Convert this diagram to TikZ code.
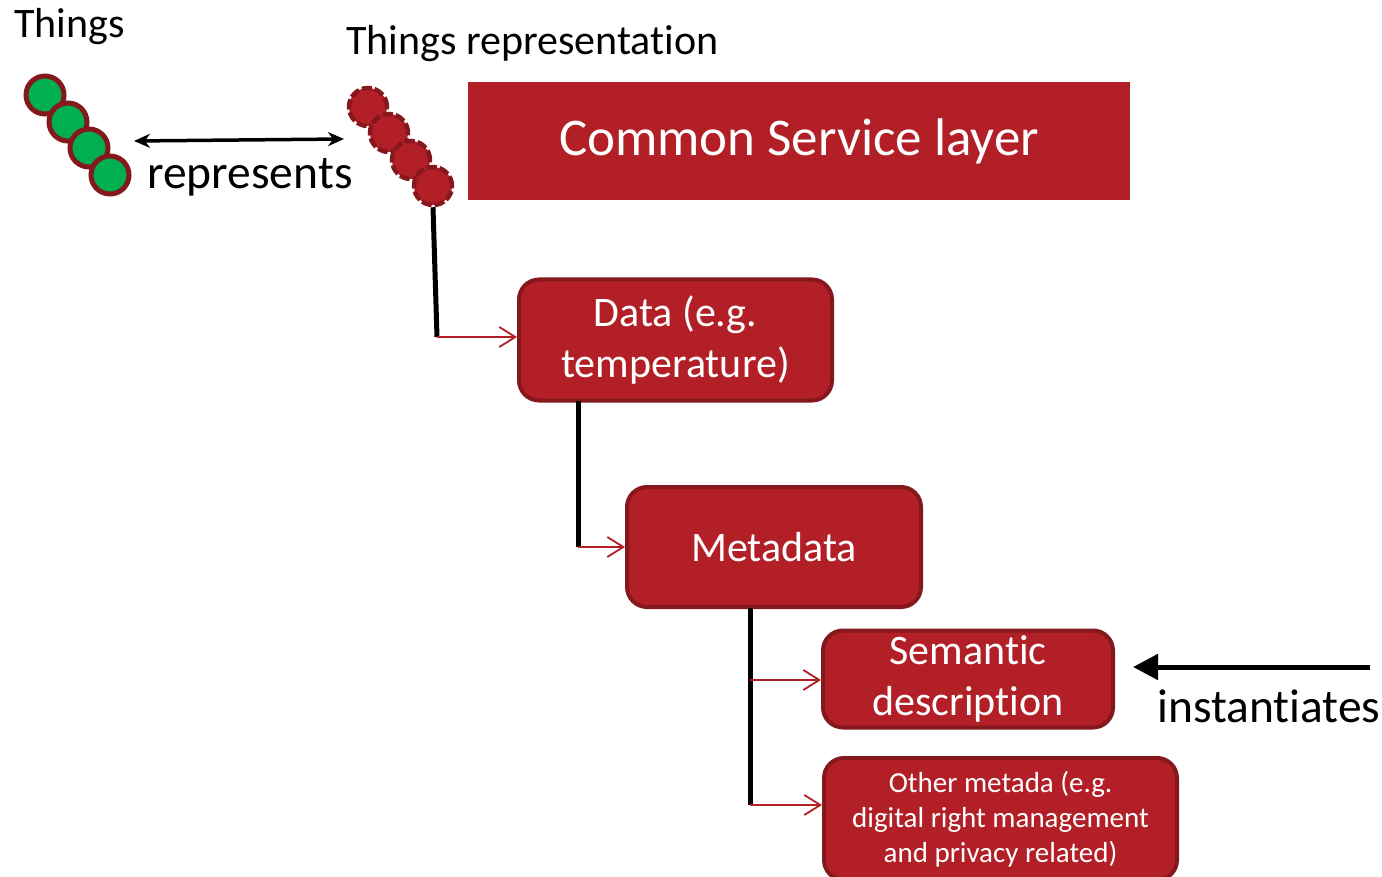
\documentclass[tikz,border=0pt]{standalone}
\usepackage{fontspec}
\setmainfont{Carlito}[Ligatures={NoCommon,NoContextual},Contextuals=NoAlternate]
\usetikzlibrary{arrows.meta}
% "t" followed by "i" without the font's ti ligature
\newcommand\tisep{t\kern0pt i}
\definecolor{boxred}{RGB}{179,31,39}
\definecolor{edgered}{RGB}{133,24,28}
\definecolor{thinggreen}{RGB}{0,176,80}
\tikzset{
  thing/.style={circle,draw=edgered,fill=thinggreen,line width=5pt,minimum size=38pt,inner sep=0pt},
  repthing/.style={circle,draw=edgered,fill=boxred,line width=4.5pt,minimum size=38pt,inner sep=0pt,dash pattern=on 10pt off 3pt},
  rbox/.style={rounded corners=20pt,draw=edgered,fill=boxred,line width=4pt,text=white,align=center,inner sep=0pt},
  stem/.style={line width=5pt,black},
  feed/.style={draw=boxred,line width=1.8pt,-{Straight Barb[length=16pt,width=20pt,line width=1.8pt]}},
  lbl/.style={anchor=base west,inner sep=0pt},
}
\begin{document}
\begin{tikzpicture}[x=1pt,y=-1pt]
\useasboundingbox (0,0) rectangle (1382,877);
% physical things
\node[thing] (g1) at (45,95) {};
\node[thing] (g2) at (68,122) {};
\node[thing] (g3) at (89,148) {};
\node[thing] (g4) at (110,175) {};
% their representations
\node[repthing] (r1) at (368,107) {};
\node[repthing] (r2) at (389,133) {};
\node[repthing] (r3) at (411,160) {};
\node[repthing] (r4) at (433,186) {};
% labels
\node[lbl,font=\fontsize{42}{50}\selectfont] (tthings) at (14,38) {Things};
\node[lbl,font=\fontsize{42}{50}\selectfont] (trep) at (346,55) {Things representa\tisep on};
\node[lbl,font=\fontsize{47.5}{55}\selectfont] (trepr) at (147,189) {represents};
\node[lbl,font=\fontsize{47.5}{55}\selectfont] (tinst) at (1157,722) {instan\tisep ates};
% layer banner
\node[fill=boxred,minimum width=662pt,minimum height=118pt,inner sep=0pt,text=white,
      font=\fontsize{53}{60}\selectfont] (csl) at (799,141) {Common Service layer};
% boxes
\node[rbox,minimum width=313pt,minimum height=121pt,font=\fontsize{42}{51}\selectfont] (data) at (675.5,340) {Data (e.g.\\temperature)};
\node[rbox,minimum width=294pt,minimum height=120pt,font=\fontsize{42}{51}\selectfont] (meta) at (774,547) {Metadata};
\node[rbox,minimum width=290pt,minimum height=97pt,font=\fontsize{42}{51}\selectfont] (sem) at (968,679) {Seman\tisep c\\description};
\node[rbox,minimum width=353pt,minimum height=122pt,font=\fontsize{29}{35}\selectfont] (other) at (1000.5,819) {Other metada (e.g.\\digital right management\\and privacy related)};
% connectors
\coordinate (ra) at (134,141);
\coordinate (rb) at (344,139);
\coordinate (k1) at (437,337);
\coordinate (k2top) at (578,401);
\coordinate (k2) at (578,547);
\coordinate (k3top) at (750,608);
\coordinate (k3a) at (750,680);
\coordinate (k3b) at (750,805);
\coordinate (instend) at (1370,667);
\coordinate (insttip) at (1133,667);
\draw[line width=3.5pt,{Stealth[length=16pt,width=14pt]}-{Stealth[length=16pt,width=14pt]}] (ra) -- (rb);
\draw[stem] (r4.south) -- (k1);
\draw[feed] (k1) -- (k1 -| data.west);
\draw[stem] (k2top) -- (k2);
\draw[feed] (k2) -- (k2 -| meta.west);
\draw[stem] (k3top) -- (k3b);
\draw[feed] (k3a) -- (k3a -| sem.west);
\draw[feed] (k3b) -- (k3b -| other.west);
\draw[line width=5pt,-{Triangle[length=25pt,width=25pt]}] (instend) -- (insttip);
\end{tikzpicture}
\end{document}
